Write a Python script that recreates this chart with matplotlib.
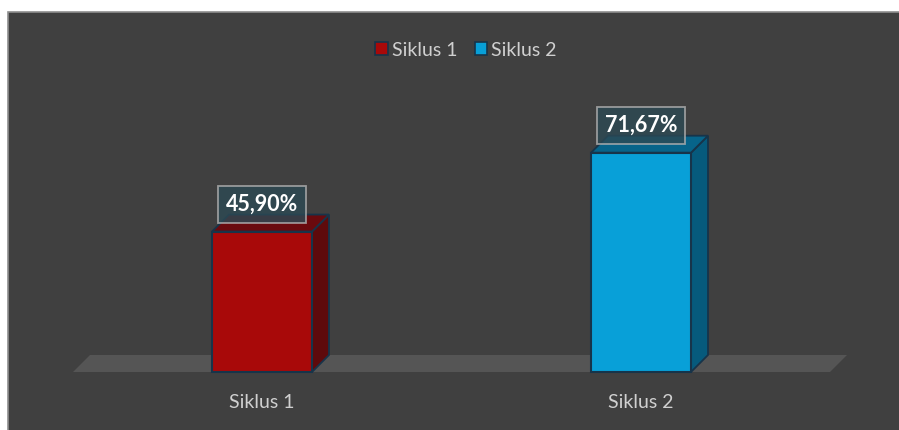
import matplotlib.pyplot as plt
from matplotlib.patches import Polygon, Rectangle
import numpy as np

# data
categories = ["Siklus 1", "Siklus 2"]
values = [45.90, 71.67]
labels = ["45,90%", "71,67%"]
front_colors = ["#A80909", "#08A0D8"]
side_colors = ["#5E0A0C", "#065A7C"]
top_colors = ["#6A0A0E", "#07648A"]

W, H = 899, 430
fig = plt.figure(figsize=(W / 100, H / 100), dpi=100)
fig.patch.set_facecolor("white")

ax = fig.add_axes([0, 0, 1, 1])
ax.set_facecolor("none")
px_x = 379.0          # pixels per category
px_y = 3.06           # pixels per percent
x0_px, y0_px = 262, 430 - 372
ax.set_xlim(-x0_px / px_x, (W - x0_px) / px_x)
ax.set_ylim(-y0_px / px_y, (H - y0_px) / px_y)
ax.axis("off")

# chart area background with thin border (offset from top-left like the source)
ax.add_patch(Rectangle((8 / W, -0.01), (W - 8) / W + 0.01, (H - 12) / H + 0.01,
                       transform=ax.transAxes, facecolor="#404040",
                       edgecolor="#8f8f8f", linewidth=1.2, zorder=0))

bw = 100 / px_x       # bar width
dx = 17 / px_x        # depth offset
dy = 17 / px_y
edge = "#17344A"
font = "Lato"

# floor
fl, fr = -189 / px_x, 568 / px_x
ax.add_patch(Polygon([(fl, 0), (fr, 0), (fr + dx, dy), (fl + dx, dy)],
                     closed=True, facecolor="#555555", edgecolor="none", zorder=1))

xs = np.arange(len(categories))
for i, (x, v) in enumerate(zip(xs, values)):
    l, r = x - bw / 2, x + bw / 2
    # side
    ax.add_patch(Polygon([(r, 0), (r + dx, dy), (r + dx, v + dy), (r, v)],
                         facecolor=side_colors[i], edgecolor=edge, lw=1.3, zorder=2))
    # top
    ax.add_patch(Polygon([(l, v), (r, v), (r + dx, v + dy), (l + dx, v + dy)],
                         facecolor=top_colors[i], edgecolor=edge, lw=1.3, zorder=2))
    # front
    ax.add_patch(Polygon([(l, 0), (r, 0), (r, v), (l, v)],
                         facecolor=front_colors[i], edgecolor=edge, lw=1.5, zorder=3))
    # data label
    ax.text(x, v + 27 / px_y, labels[i], ha="center", va="center",
            fontsize=15.5, fontweight="bold", color="white", family=font,
            zorder=5,
            bbox=dict(boxstyle="square,pad=0.38", facecolor="#2C4954",
                      edgecolor="#b0b0b0", alpha=0.8, linewidth=1.3))
    # category label
    ax.text(x, -31 / px_y, categories[i], ha="center", va="center",
            fontsize=14, color="#d0d0d0", family=font, zorder=5)

# legend
handles = [Rectangle((0, 0), 1, 1, facecolor=front_colors[i], edgecolor=edge, lw=1.2)
           for i in range(len(categories))]
leg = ax.legend(handles, categories, loc="center", bbox_to_anchor=(466 / W, 1 - 50 / H),
                ncol=2, frameon=False, handlelength=0.65, handleheight=0.65,
                handletextpad=0.2, columnspacing=0.9,
                prop={"family": font, "size": 14})
for t in leg.get_texts():
    t.set_color("#d0d0d0")

fig.savefig("out.png", dpi=100, facecolor=fig.get_facecolor())
